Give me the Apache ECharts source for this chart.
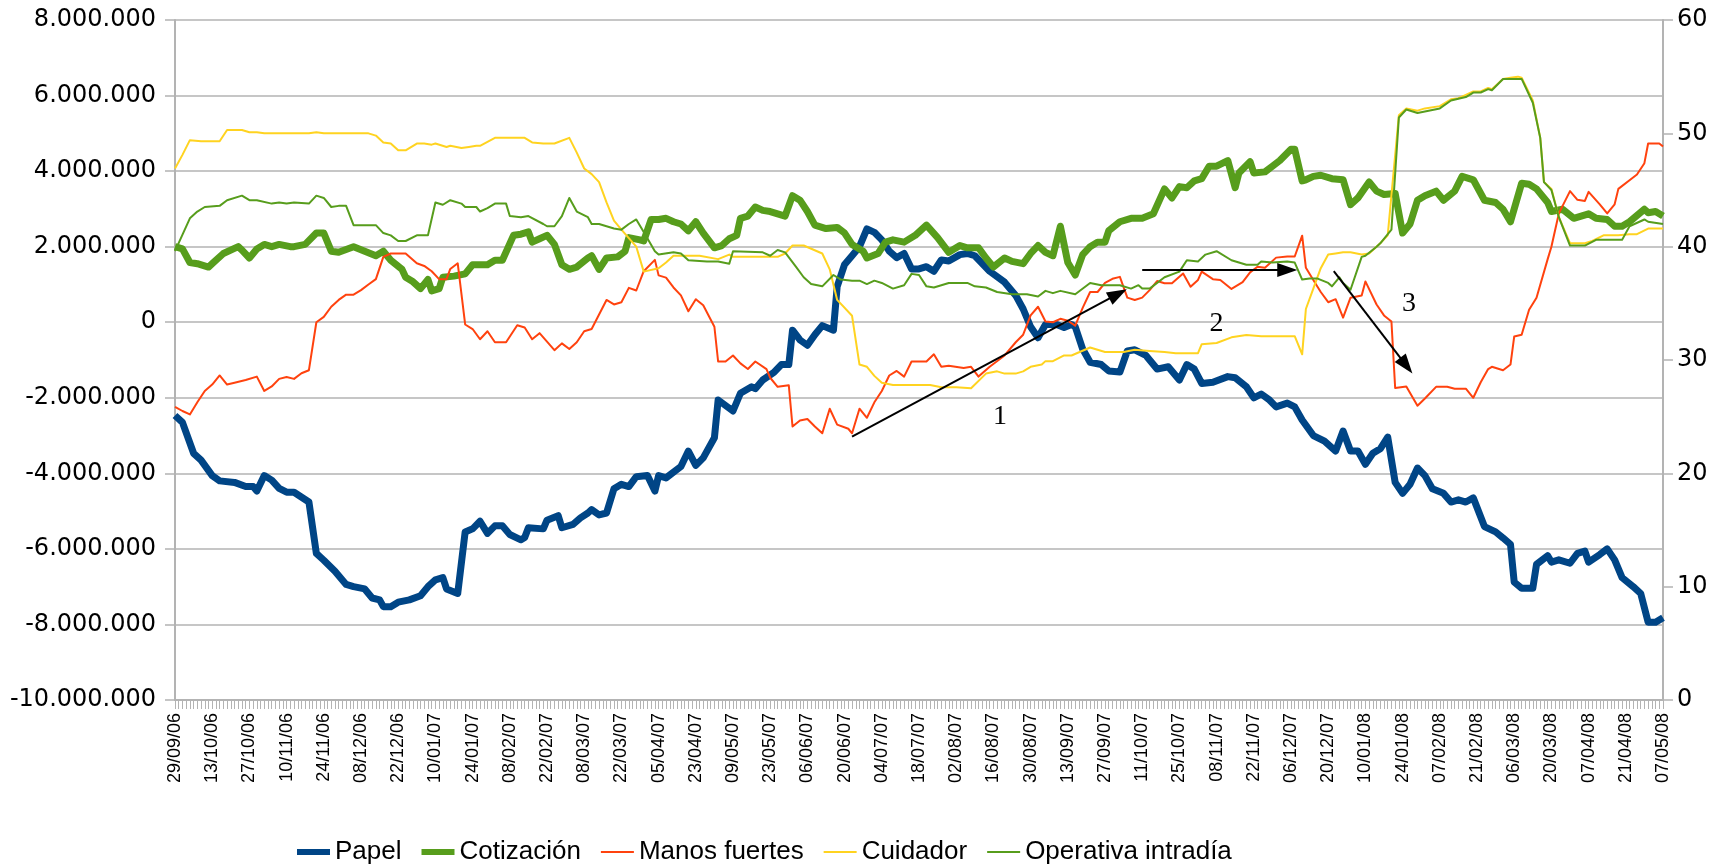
<!DOCTYPE html>
<html>
<head>
<meta charset="utf-8">
<title>Papel / Cotización</title>
<script src="https://cdn.jsdelivr.net/npm/echarts@6/dist/echarts.min.js"></script>
<style>
    html, body { margin: 0; padding: 0; background: #fff; }
    #container-chart-line { width: 1716px; height: 865px; }
</style>
</head>
<body>
<div id="container-chart-line"></div>
<script>
// etiquetas del eje X, una cada 10 sesiones
var fechas = ['29/09/06','13/10/06','27/10/06','10/11/06','24/11/06','08/12/06','22/12/06','10/01/07','24/01/07','08/02/07',
    '22/02/07','08/03/07','22/03/07','05/04/07','23/04/07','09/05/07','23/05/07','06/06/07','20/06/07','04/07/07',
    '18/07/07','02/08/07','16/08/07','30/08/07','13/09/07','27/09/07','11/10/07','25/10/07','08/11/07','22/11/07',
    '06/12/07','20/12/07','10/01/08','24/01/08','07/02/08','21/02/08','06/03/08','20/03/08','07/04/08','21/04/08','07/05/08'];

// [sesion, millones] eje izquierdo
var papel = [[0,-2.47],[2,-2.65],[5,-3.47],[7,-3.65],[10,-4.06],[12,-4.2],[16,-4.24],[19,-4.35],[21,-4.35],[22,-4.47],[24,-4.06],[26,-4.18],[28,-4.4],[30,-4.5],[32,-4.5],[36,-4.76],[38,-6.12],[40,-6.3],[43,-6.59],[46,-6.94],[48,-7.0],[51,-7.06],[53,-7.3],[55,-7.35],[56,-7.53],[58,-7.53],[60,-7.41],[63,-7.35],[66,-7.24],[68,-7.0],[70,-6.82],[72,-6.76],[73,-7.06],[76,-7.18],[78,-5.55],[80,-5.47],[82,-5.27],[84,-5.59],[86,-5.39],[88,-5.39],[90,-5.62],[93,-5.76],[94,-5.7],[95,-5.44],[99,-5.47],[100,-5.24],[103,-5.12],[104,-5.44],[107,-5.35],[109,-5.18],[111,-5.05],[112,-4.96],[114,-5.1],[116,-5.05],[118,-4.41],[120,-4.29],[122,-4.35],[124,-4.09],[127,-4.06],[129,-4.47],[130,-4.06],[132,-4.12],[136,-3.82],[138,-3.41],[140,-3.79],[142,-3.59],[145,-3.06],[146,-2.06],[150,-2.35],[152,-1.88],[155,-1.71],[156,-1.76],[158,-1.53],[161,-1.33],[163,-1.12],[165,-1.12],[166,-0.21],[168,-0.47],[170,-0.61],[172,-0.33],[174,-0.09],[177,-0.21],[178,0.94],[180,1.53],[182,1.76],[184,2.0],[186,2.47],[188,2.38],[190,2.18],[192,1.88],[194,1.71],[196,1.82],[198,1.41],[200,1.41],[202,1.47],[204,1.35],[206,1.65],[208,1.62],[211,1.79],[213,1.82],[215,1.76],[219,1.35],[223,1.06],[226,0.71],[228,0.35],[230,-0.12],[232,-0.41],[234,-0.06],[237,-0.06],[239,-0.14],[241,-0.06],[242,-0.12],[244,-0.71],[246,-1.06],[249,-1.12],[251,-1.29],[254,-1.32],[256,-0.76],[258,-0.73],[261,-0.88],[264,-1.24],[267,-1.18],[270,-1.53],[272,-1.12],[274,-1.24],[276,-1.62],[279,-1.59],[283,-1.44],[285,-1.47],[288,-1.71],[290,-2.0],[292,-1.9],[294,-2.04],[296,-2.24],[299,-2.14],[301,-2.24],[303,-2.59],[306,-3.0],[309,-3.15],[312,-3.41],[314,-2.88],[316,-3.41],[318,-3.41],[320,-3.76],[322,-3.47],[324,-3.35],[326,-3.04],[328,-4.24],[330,-4.53],[332,-4.29],[334,-3.86],[336,-4.06],[338,-4.41],[341,-4.53],[343,-4.76],[345,-4.7],[347,-4.76],[349,-4.65],[352,-5.41],[355,-5.55],[357,-5.71],[359,-5.88],[360,-6.88],[362,-7.04],[365,-7.04],[366,-6.41],[369,-6.18],[370,-6.35],[372,-6.29],[375,-6.38],[377,-6.12],[379,-6.06],[380,-6.35],[383,-6.15],[385,-6.0],[387,-6.29],[389,-6.76],[392,-7.0],[394,-7.18],[396,-7.94],[398,-7.94],[400,-7.82]];

var manosFuertes = [[0,-2.24],[2,-2.35],[4,-2.44],[6,-2.12],[8,-1.82],[10,-1.65],[12,-1.41],[14,-1.65],[16,-1.6],[19,-1.53],[22,-1.44],[24,-1.82],[26,-1.7],[28,-1.5],[30,-1.45],[32,-1.5],[34,-1.35],[36,-1.27],[38,0.0],[40,0.14],[42,0.41],[44,0.59],[46,0.73],[48,0.73],[50,0.85],[52,1.0],[54,1.14],[56,1.73],[58,1.82],[62,1.82],[65,1.56],[67,1.49],[69,1.35],[71,1.14],[73,1.14],[74,1.41],[76,1.56],[78,-0.06],[80,-0.18],[82,-0.45],[84,-0.24],[86,-0.53],[89,-0.53],[92,-0.08],[94,-0.14],[96,-0.45],[98,-0.29],[102,-0.74],[104,-0.56],[106,-0.71],[108,-0.53],[110,-0.24],[112,-0.18],[116,0.59],[118,0.47],[120,0.53],[122,0.91],[124,0.84],[126,1.35],[129,1.65],[130,1.24],[132,1.18],[134,0.92],[136,0.71],[138,0.29],[140,0.61],[142,0.45],[145,-0.12],[146,-1.04],[148,-1.04],[150,-0.88],[152,-1.09],[154,-1.24],[156,-1.04],[159,-1.24],[160,-1.47],[162,-1.71],[165,-1.67],[166,-2.76],[168,-2.6],[170,-2.56],[172,-2.76],[174,-2.94],[176,-2.29],[178,-2.71],[181,-2.82],[182,-2.94],[184,-2.29],[186,-2.53],[188,-2.12],[190,-1.82],[192,-1.41],[194,-1.29],[196,-1.44],[198,-1.04],[202,-1.04],[204,-0.85],[206,-1.18],[208,-1.15],[212,-1.21],[214,-1.18],[216,-1.44],[219,-1.18],[223,-0.88],[226,-0.53],[228,-0.33],[230,0.18],[232,0.41],[234,0.02],[236,0.0],[238,0.09],[240,0.04],[242,-0.09],[244,0.38],[246,0.8],[248,0.8],[250,1.04],[252,1.15],[254,1.2],[256,0.65],[258,0.59],[260,0.65],[262,0.85],[264,1.09],[266,1.03],[268,1.03],[271,1.29],[273,0.94],[275,1.12],[276,1.34],[279,1.14],[281,1.12],[284,0.88],[287,1.06],[289,1.32],[291,1.47],[293,1.44],[296,1.71],[299,1.74],[301,1.74],[303,2.29],[304,1.44],[306,1.12],[308,0.8],[310,0.53],[312,0.61],[314,0.12],[316,0.65],[319,0.71],[320,1.08],[323,0.47],[325,0.18],[327,0.02],[328,-1.74],[331,-1.7],[334,-2.21],[336,-2.02],[339,-1.71],[342,-1.71],[344,-1.76],[347,-1.76],[349,-2.0],[351,-1.59],[353,-1.24],[354,-1.18],[357,-1.27],[359,-1.12],[360,-0.38],[362,-0.33],[364,0.33],[366,0.65],[369,1.67],[370,2.0],[372,2.88],[375,3.47],[377,3.24],[379,3.21],[380,3.45],[383,3.12],[385,2.88],[387,3.12],[388,3.53],[391,3.76],[393,3.91],[395,4.21],[396,4.73],[399,4.73],[400,4.65]];

// [sesion, euros] eje derecho
var cotizacion = [[0,40.0],[2,39.8],[4,38.6],[6,38.5],[9,38.2],[10,38.5],[13,39.4],[17,40.0],[18,39.7],[20,39.0],[22,39.8],[24,40.2],[26,40.0],[28,40.2],[31,40.0],[32,40.0],[35,40.2],[38,41.2],[40,41.2],[42,39.6],[44,39.5],[48,40.0],[51,39.6],[54,39.2],[56,39.6],[58,38.8],[61,38.0],[62,37.3],[64,36.9],[66,36.3],[68,37.1],[69,36.1],[71,36.3],[72,37.3],[75,37.4],[78,37.6],[80,38.4],[82,38.4],[84,38.4],[86,38.8],[88,38.8],[91,41.0],[93,41.1],[95,41.3],[96,40.4],[98,40.7],[100,41.0],[102,40.2],[104,38.4],[106,38.0],[108,38.2],[111,39.0],[112,39.2],[114,38.0],[116,39.0],[119,39.1],[121,39.6],[122,40.8],[125,40.6],[126,40.5],[128,42.4],[130,42.4],[132,42.5],[134,42.2],[136,42.0],[138,41.4],[140,42.2],[142,41.2],[145,39.9],[147,40.1],[149,40.7],[151,41.0],[152,42.5],[154,42.7],[156,43.5],[158,43.2],[160,43.1],[164,42.7],[166,44.5],[168,44.1],[170,43.1],[172,41.9],[175,41.6],[178,41.7],[180,41.2],[182,40.2],[185,39.6],[186,39.0],[189,39.4],[191,40.4],[193,40.6],[196,40.4],[199,41.0],[202,41.9],[205,40.8],[208,39.5],[211,40.1],[213,39.9],[216,39.9],[218,39.0],[220,38.2],[223,39.0],[225,38.7],[228,38.5],[230,39.4],[232,40.1],[234,39.5],[236,39.2],[238,41.8],[240,38.6],[242,37.5],[244,39.3],[246,40.0],[248,40.4],[250,40.4],[251,41.4],[254,42.2],[257,42.5],[260,42.5],[263,42.9],[266,45.1],[268,44.3],[270,45.3],[272,45.2],[274,45.8],[276,46.0],[278,47.1],[280,47.1],[283,47.6],[285,45.2],[286,46.5],[289,47.5],[290,46.5],[293,46.6],[295,47.1],[297,47.6],[300,48.6],[301,48.6],[303,45.8],[304,45.9],[306,46.2],[308,46.3],[311,46.0],[314,45.9],[316,43.7],[318,44.3],[321,45.7],[323,44.9],[325,44.6],[328,44.7],[330,41.2],[332,42.0],[334,44.1],[336,44.5],[339,44.9],[341,44.1],[344,44.9],[346,46.2],[349,45.9],[352,44.1],[355,43.9],[357,43.3],[359,42.2],[362,45.6],[364,45.5],[366,45.1],[369,43.9],[370,43.1],[373,43.3],[376,42.5],[378,42.7],[380,42.9],[382,42.5],[385,42.4],[387,41.8],[389,41.8],[391,42.2],[395,43.3],[396,43.0],[398,43.1],[400,42.7]];

var cuidador = [[0,46.9],[2,48.1],[4,49.4],[7,49.3],[12,49.3],[14,50.3],[18,50.3],[20,50.1],[22,50.1],[24,50.0],[36,50.0],[38,50.1],[40,50.0],[52,50.0],[54,49.8],[56,49.2],[58,49.1],[60,48.5],[62,48.5],[65,49.1],[67,49.1],[69,49.0],[70,49.1],[73,48.8],[74,48.9],[77,48.7],[79,48.8],[81,48.9],[82,48.9],[86,49.6],[94,49.6],[96,49.2],[99,49.1],[102,49.1],[106,49.6],[108,48.3],[110,46.9],[112,46.4],[114,45.7],[116,43.9],[118,42.3],[120,41.5],[124,40.0],[126,37.8],[130,38.1],[132,38.6],[134,39.2],[141,39.2],[146,38.9],[149,39.3],[150,39.1],[157,39.1],[162,39.1],[164,39.4],[166,40.1],[169,40.1],[174,39.4],[176,38.0],[178,35.3],[182,33.9],[184,29.6],[186,29.4],[188,28.6],[190,28.0],[193,27.8],[203,27.8],[206,27.6],[210,27.6],[214,27.5],[218,28.8],[221,29.0],[223,28.8],[226,28.8],[228,29.0],[230,29.4],[233,29.6],[234,29.9],[236,29.9],[239,30.4],[241,30.4],[246,31.1],[250,30.7],[255,30.7],[258,30.9],[262,30.8],[266,30.7],[269,30.6],[275,30.6],[276,31.4],[280,31.5],[284,32.0],[288,32.2],[292,32.1],[301,32.1],[303,30.5],[304,34.5],[306,36.3],[308,38.1],[310,39.3],[312,39.4],[314,39.5],[316,39.5],[319,39.3],[321,39.4],[324,40.3],[326,41.0],[329,51.6],[331,52.2],[334,52.0],[336,52.2],[340,52.4],[343,53.0],[345,53.1],[347,53.4],[349,53.7],[351,53.7],[353,54.0],[354,53.9],[357,54.8],[359,54.9],[361,55.0],[362,54.9],[365,52.9],[367,49.6],[368,45.7],[370,45.1],[372,42.6],[375,40.3],[379,40.3],[381,40.5],[384,41.0],[388,41.0],[391,41.1],[393,41.1],[396,41.6],[400,41.6]];

var operativaIntradia = [[0,39.6],[4,42.5],[6,43.1],[8,43.5],[12,43.6],[14,44.1],[18,44.5],[20,44.1],[22,44.1],[26,43.8],[28,43.9],[30,43.8],[32,43.9],[36,43.8],[38,44.5],[40,44.3],[42,43.5],[44,43.6],[46,43.6],[48,41.9],[54,41.9],[56,41.2],[58,41.0],[60,40.5],[62,40.5],[65,41.0],[68,41.0],[70,43.9],[72,43.7],[74,44.1],[77,43.8],[78,43.5],[81,43.5],[82,43.1],[84,43.4],[86,43.8],[89,43.8],[90,42.7],[93,42.6],[95,42.7],[99,42.0],[100,41.8],[102,41.8],[104,42.7],[106,44.3],[108,43.1],[111,42.6],[112,42.0],[114,42.0],[118,41.6],[120,41.5],[122,42.0],[124,42.4],[126,41.3],[129,39.6],[130,39.3],[134,39.5],[136,39.4],[138,38.8],[143,38.7],[146,38.7],[149,38.5],[150,39.6],[158,39.5],[160,39.2],[162,39.7],[164,39.5],[167,38.2],[169,37.3],[171,36.7],[174,36.5],[177,37.5],[179,37.1],[182,37.0],[184,37.0],[186,36.7],[188,37.0],[190,36.8],[193,36.3],[196,36.6],[198,37.6],[200,37.5],[202,36.5],[204,36.4],[208,36.8],[213,36.8],[215,36.5],[218,36.4],[221,36.0],[225,35.8],[229,35.8],[232,35.6],[234,36.1],[236,35.9],[238,36.1],[242,35.8],[246,36.8],[249,36.6],[254,36.6],[257,36.3],[259,36.6],[260,36.3],[262,36.3],[266,37.3],[270,37.8],[272,38.8],[275,38.7],[277,39.3],[280,39.6],[284,38.8],[288,38.4],[291,38.4],[292,38.7],[295,38.6],[299,38.7],[301,38.6],[303,37.1],[305,37.2],[307,37.2],[310,36.8],[311,36.5],[313,37.3],[314,36.8],[316,36.2],[319,39.1],[320,39.2],[323,40.0],[324,40.3],[327,41.5],[329,51.4],[331,52.1],[334,51.8],[340,52.2],[343,52.9],[347,53.2],[349,53.6],[351,53.6],[353,53.9],[354,53.8],[357,54.8],[362,54.8],[365,52.7],[367,49.6],[368,45.7],[370,45.0],[372,42.6],[375,40.1],[379,40.1],[382,40.6],[389,40.6],[391,41.8],[395,42.4],[396,42.2],[400,42.0]];

// flechas y numeros dibujados sobre el grafico (eje izquierdo)
var flechas = [[[182,-3.03],[253.5,0.75]], [[260,1.38],[299,1.38]], [[311.5,1.35],[331,-1.15]]];
var rotulos = [['1',221.8,-2.5], ['2',280,-0.04], ['3',331.7,0.49]];

var myChart;
var gris = '#b3b3b3';
var fuente = 'Liberation Sans, Arial, sans-serif';
var fuenteEjes = 'DejaVu Sans, sans-serif';

function miles(n) {
    return String(Math.round(n)).replace(/\B(?=(\d{3})+(?!\d))/g, '.');
}

function serie(nombre, datos, color, ancho, eje) {
    return {
        name: nombre,
        type: 'line',
        yAxisIndex: eje,
        data: datos,
        showSymbol: false,
        symbol: 'none',
        lineStyle: { color: color, width: ancho, join: 'round' },
        itemStyle: { color: color },
        silent: true
    };
}

function myChartInit() {
    myChart = echarts.init(document.getElementById('container-chart-line'));

    var lineasFlecha = flechas.map(function (f) {
        return [{ coord: f[0] }, { coord: f[1] }];
    });
    var puntosRotulo = rotulos.map(function (r) {
        return { name: r[0], value: r[0], coord: [r[1], r[2]] };
    });

    var option = {
        animation: false,
        backgroundColor: '#fff',
        grid: { left: 175, right: 53, top: 20, bottom: 165 },
        legend: {
            left: 292,
            top: 834,
            itemWidth: 33,
            itemHeight: 6,
            itemGap: 20,
            textStyle: { fontFamily: fuente, fontSize: 26, color: '#000' },
            data: [
                { name: 'Papel', icon: 'rect' },
                { name: 'Cotización', icon: 'rect' },
                { name: 'Manos fuertes', icon: 'path://M0,0H33V2H0Z' },
                { name: 'Cuidador', icon: 'path://M0,0H33V2H0Z' },
                { name: 'Operativa intradía', icon: 'path://M0,0H33V2H0Z' }
            ]
        },
        xAxis: {
            type: 'value',
            min: 0,
            max: 400,
            interval: 10,
            axisLine: { show: true, onZero: false, lineStyle: { color: gris, width: 2 } },
            axisTick: { show: true, length: 9, lineStyle: { color: gris, width: 1 } },
            minorTick: { show: true, splitNumber: 10, length: 9, lineStyle: { color: gris, width: 1 } },
            splitLine: { show: false },
            axisLabel: {
                rotate: 90,
                margin: 13,
                fontFamily: fuente,
                fontSize: 18,
                color: '#000',
                formatter: function (v) { return fechas[Math.round(v / 10)] || ''; }
            }
        },
        yAxis: [
            {
                type: 'value',
                min: -10,
                max: 8,
                interval: 2,
                axisLine: { show: true, lineStyle: { color: gris, width: 2 } },
                axisTick: { show: true, length: 10, lineStyle: { color: gris, width: 1.5 } },
                splitLine: { show: true, lineStyle: { color: gris, width: 1.5 } },
                axisLabel: {
                    margin: 19,
                    fontFamily: fuenteEjes,
                    fontSize: 24,
                    color: '#000',
                    formatter: function (v) { return miles(v * 1000000); }
                }
            },
            {
                type: 'value',
                min: 0,
                max: 60,
                interval: 10,
                position: 'right',
                axisLine: { show: true, lineStyle: { color: gris, width: 2 } },
                axisTick: { show: true, length: 10, lineStyle: { color: gris, width: 1.5 } },
                splitLine: { show: false },
                axisLabel: { margin: 14, fontFamily: fuenteEjes, fontSize: 24, color: '#000' }
            }
        ],
        series: [
            serie('Papel', papel, '#004586', 7, 0),
            serie('Cotización', cotizacion, '#579d1c', 7, 1),
            serie('Manos fuertes', manosFuertes, '#ff420e', 2, 0),
            serie('Cuidador', cuidador, '#ffd320', 2, 1),
            serie('Operativa intradía', operativaIntradia, '#579d1c', 2, 1),
            {
                name: 'anotaciones',
                type: 'line',
                yAxisIndex: 0,
                data: [],
                silent: true,
                markLine: {
                    silent: true,
                    symbol: ['none', 'triangle'],
                    symbolSize: [14, 20],
                    label: { show: false },
                    lineStyle: { color: '#000', width: 2, type: 'solid' },
                    emphasis: { disabled: true },
                    data: lineasFlecha
                },
                markPoint: {
                    silent: true,
                    symbol: 'circle',
                    symbolSize: 1,
                    itemStyle: { color: 'rgba(0,0,0,0)' },
                    label: {
                        show: true,
                        position: 'inside',
                        formatter: '{b}',
                        color: '#000',
                        fontFamily: 'Liberation Serif, Times New Roman, serif',
                        fontSize: 28
                    },
                    data: puntosRotulo
                }
            }
        ]
    };

    myChart.setOption(option);
}

myChartInit();
</script>
</body>
</html>
